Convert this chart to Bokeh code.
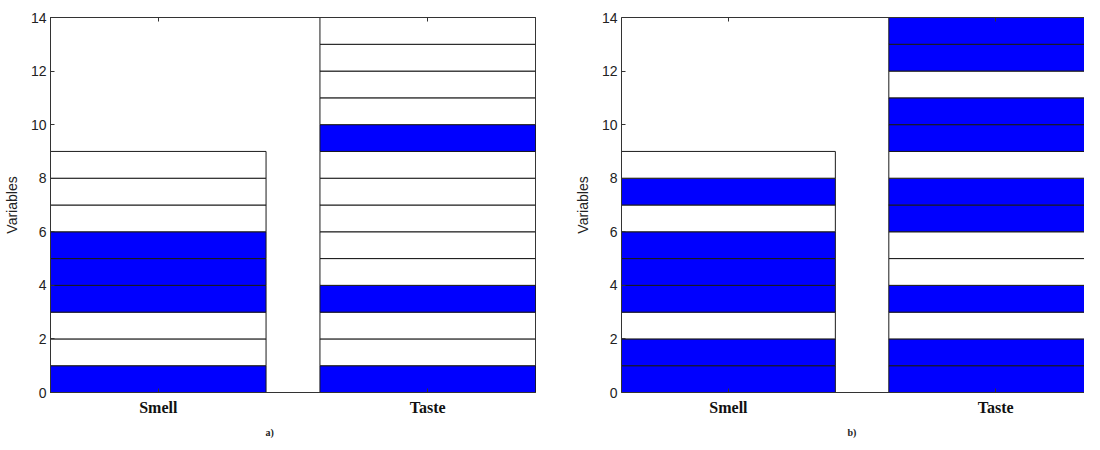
from bokeh.plotting import figure
from bokeh.models import ColumnDataSource, FixedTicker, LinearAxis, Range1d, Title
from bokeh.layouts import row
from bokeh.embed import file_html
from bokeh.resources import INLINE

# ---- data -------------------------------------------------------------
categories = ["Smell", "Taste"]
# one flag per unit cell, from the bottom up: 1 = blue, 0 = white
smell_a = [1, 0, 0, 1, 1, 1, 0, 0, 0]
taste_a = [1, 0, 0, 1, 0, 0, 0, 0, 0, 1, 0, 0, 0, 0]
smell_b = [1, 1, 0, 1, 1, 1, 0, 1, 0]
taste_b = [1, 1, 0, 1, 0, 0, 1, 1, 0, 1, 1, 0, 1, 1]
y_ticks = [0, 2, 4, 6, 8, 10, 12, 14]
panel_labels = ["a)", "b)"]
y_label = "Variables"

# ---- style ------------------------------------------------------------
BAR_W = 0.8
FILL = {1: "#0000ff", 0: "#ffffff"}
EDGE = "#1a1a1a"
AXIS_C = "#333333"
SANS = "Liberation Sans"
SERIF = "Liberation Serif"
HEIGHT = 444


def cell_source(series):
    d = dict(left=[], right=[], bottom=[], top=[], color=[])
    for i, flags in enumerate(series):
        x = i + 1
        for k, f in enumerate(flags):
            d["left"].append(x - BAR_W / 2)
            d["right"].append(x + BAR_W / 2)
            d["bottom"].append(k)
            d["top"].append(k + 1)
            d["color"].append(FILL[f])
    return ColumnDataSource(d)


def panel(series, label, width, x_end, b_left, b_right, b_top, b_bottom,
          outline, label_offset):
    p = figure(width=width, height=HEIGHT, x_range=Range1d(0.6, x_end),
               y_range=Range1d(0, 14), output_backend="svg",
               toolbar_location=None, min_border_left=b_left,
               min_border_right=b_right, min_border_top=b_top,
               min_border_bottom=b_bottom)
    p.grid.visible = False
    p.outline_line_color = EDGE if outline else None
    p.background_fill_color = "white"
    p.border_fill_color = "white"

    p.quad(left="left", right="right", bottom="bottom", top="top",
           fill_color="color", line_color=EDGE, line_width=1,
           source=cell_source(series))

    ticks = list(range(1, len(categories) + 1))
    xa = p.xaxis[0]
    xa.ticker = FixedTicker(ticks=ticks)
    xa.major_label_overrides = {t: c for t, c in zip(ticks, categories)}
    xa.major_label_text_font = SERIF
    xa.major_label_text_font_style = "bold"
    xa.major_label_text_font_size = "16px"
    xa.major_label_text_color = "#111111"
    xa.major_label_standoff = 6
    xa.major_tick_in = 4
    xa.major_tick_out = 0
    xa.minor_tick_line_color = None
    xa.axis_line_color = AXIS_C
    xa.major_tick_line_color = AXIS_C

    ya = p.yaxis[0]
    ya.ticker = FixedTicker(ticks=y_ticks)
    ya.major_label_text_font = SANS
    ya.major_label_text_font_size = "14px"
    ya.major_label_text_color = "#222222"
    ya.major_label_standoff = 4
    ya.major_tick_in = 4
    ya.major_tick_out = 0
    ya.minor_tick_line_color = None
    ya.axis_line_color = AXIS_C
    ya.major_tick_line_color = AXIS_C
    ya.axis_label = y_label
    ya.axis_label_text_font = SANS
    ya.axis_label_text_font_size = "14px"
    ya.axis_label_text_font_style = "normal"
    ya.axis_label_text_color = "#222222"
    ya.axis_label_standoff = 8

    # top frame edge with an inward tick, no labels
    top = LinearAxis(ticker=FixedTicker(ticks=ticks), major_tick_in=4,
                     major_tick_out=0, minor_tick_line_color=None,
                     major_label_overrides={t: " " for t in ticks},
                     major_label_text_font_size="2px",
                     major_label_text_color=None, major_label_standoff=0,
                     axis_line_color=AXIS_C, major_tick_line_color=AXIS_C)
    p.add_layout(top, "above")

    p.add_layout(Title(text=label, align="left", offset=label_offset,
                       standoff=12, text_font=SERIF, text_font_style="bold",
                       text_font_size="10px", text_color="#222222"), "below")
    return p


pa = panel([smell_a, taste_a], panel_labels[0], 571, 2.4, 47, 36, 17, 52,
           True, 215)
pb = panel([smell_b, taste_b], panel_labels[1], 513, 2.332, 47, 0, 13, 51,
           False, 226)

layout = row(pa, pb)
open("out.html", "w").write(file_html(layout, INLINE))
